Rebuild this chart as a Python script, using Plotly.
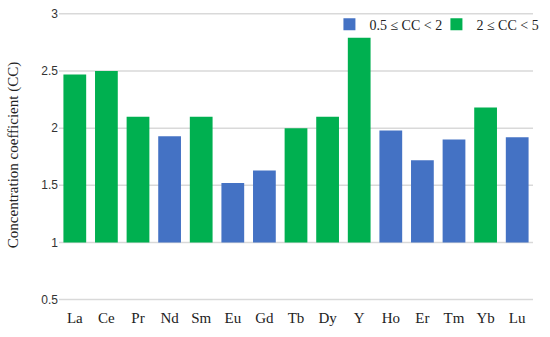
import plotly.graph_objects as go

elements = ["La", "Ce", "Pr", "Nd", "Sm", "Eu", "Gd", "Tb", "Dy", "Y", "Ho", "Er", "Tm", "Yb", "Lu"]
cc_values = [2.47, 2.50, 2.10, 1.93, 2.10, 1.52, 1.63, 2.00, 2.10, 2.79, 1.98, 1.72, 1.90, 2.18, 1.92]
y_ticks = [0.5, 1, 1.5, 2, 2.5, 3]
y_tick_labels = ["0.5", "1", "1.5", "2", "2.5", "3"]

low_name = "0.5 \u2264 CC < 2"
high_name = "2 \u2264 CC < 5"
blue = "#4472C4"
green = "#00B050"
grid_color = "#d9d9d9"
base_value = 1

low_y = [v - base_value if v < 2 else None for v in cc_values]
high_y = [v - base_value if v >= 2 else None for v in cc_values]

fig = go.Figure()
fig.add_trace(go.Bar(x=elements, y=low_y, base=base_value, name=low_name,
                     marker=dict(color=blue, line=dict(width=0))))
fig.add_trace(go.Bar(x=elements, y=high_y, base=base_value, name=high_name,
                     marker=dict(color=green, line=dict(width=0))))

# horizontal gridlines at each y tick value
for t in y_ticks:
    fig.add_shape(type="line", xref="paper", yref="y", x0=0, x1=1, y0=t, y1=t,
                  line=dict(color=grid_color, width=1.5), layer="below")

fig.update_layout(
    template="none",
    width=550, height=337,
    margin=dict(l=59, r=10, t=7, b=33.5),
    paper_bgcolor="white", plot_bgcolor="white",
    barmode="overlay", bargap=0.28,
    showlegend=True,
    legend=dict(orientation="h", x=1.022, y=0.94, xanchor="right", yanchor="middle",
                entrywidth=62, entrywidthmode="pixels",
                font=dict(family="Liberation Serif", size=14, color="#222"),
                bgcolor="rgba(0,0,0,0)", traceorder="normal"),
    xaxis=dict(showgrid=False, showline=False, ticks="outside", ticklen=1,
               tickcolor="rgba(0,0,0,0)", automargin=False,
               tickfont=dict(family="Liberation Serif", size=15, color="#222")),
    yaxis=dict(range=[0.47, 3.06], tickmode="array", tickvals=y_ticks, ticktext=y_tick_labels,
               showgrid=False, zeroline=False,
               showline=False, ticks="", automargin=False,
               tickfont=dict(family="Liberation Sans", size=12, color="#333"),
               title=dict(text="Concentration coefficient (CC)",
                          font=dict(family="Liberation Serif", size=15, color="#222"),
                          standoff=19)),
)

fig.write_html("out.html", config={"displayModeBar": False},
               post_script="document.body.style.margin='0';")
